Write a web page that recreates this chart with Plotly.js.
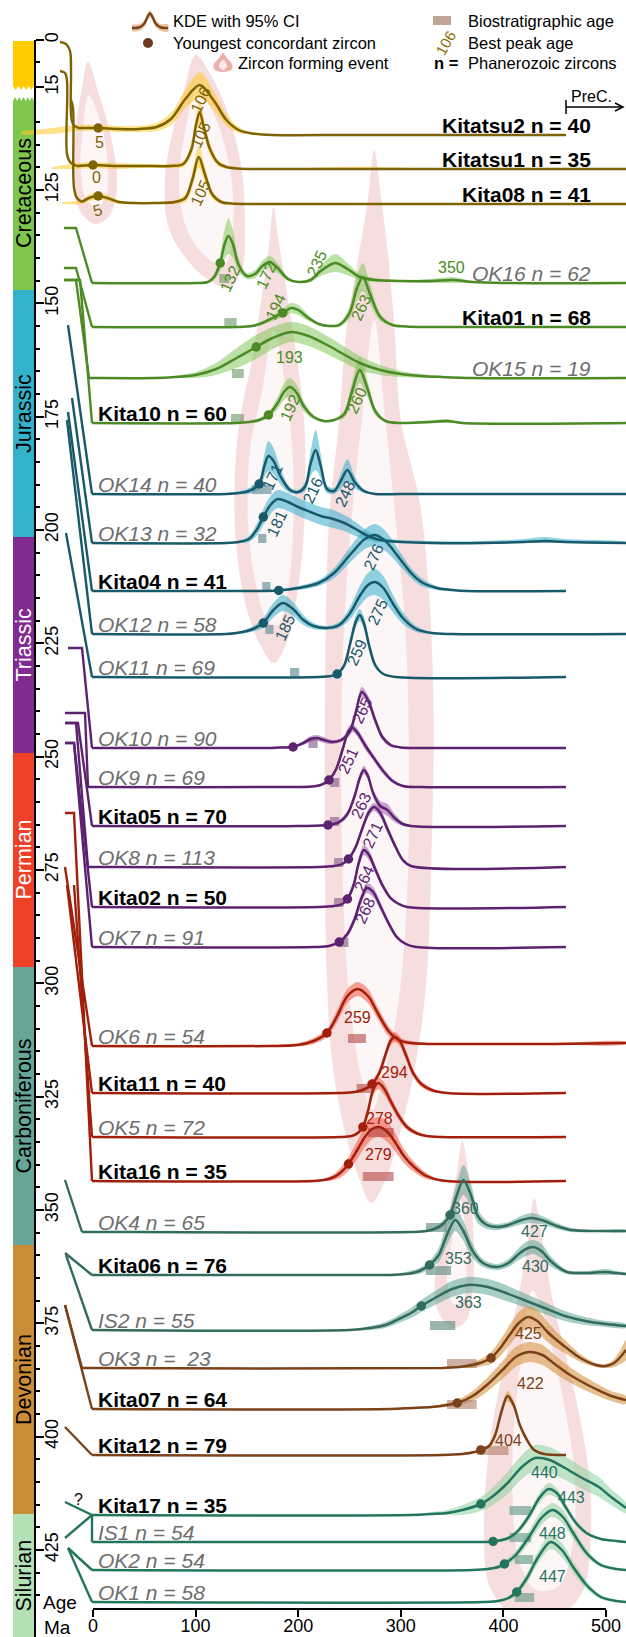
<!DOCTYPE html>
<html><head><meta charset="utf-8">
<script src="https://cdn.plot.ly/plotly-3.0.1.min.js"></script>
<style>html,body{margin:0;padding:0;background:#fff;}#chart{width:626px;height:1637px;}</style>
</head><body><div id="chart"></div>
<script>
// ================= DATA =================
const sampleNames = ['Kitatsu2','Kitatsu1','Kita08','OK16','Kita01','OK15','Kita10','OK14','OK13','Kita04','OK12','OK11','OK10','OK9','Kita05','OK8','Kita02','OK7','OK6','Kita11','OK5','Kita16','OK4','Kita06','IS2','OK3','Kita07','Kita12','Kita17','IS1','OK2','OK1'];
const sampleN = [40,35,41,62,68,19,60,40,32,41,58,69,90,69,70,113,50,91,54,40,72,35,65,76,55,23,64,79,35,54,54,58];
const sampleGroup = ['gold','gold','gold','green','green','green','green','teal','teal','teal','teal','teal','purple','purple','purple','purple','purple','purple','red','red','red','red','dteal','dteal','dteal','brown','brown','brown','sil','sil','sil','sil'];
const youngestAge = [5,0,5,124,185,159,171,162,166,181,166,238,195,230,229,249,248,240,228,272,263,249,348,328,320,388,355,378,378,390,401,413];
const bestPeakAges = [[5,106],[0,105],[5,105],[132,172,235,350],[194,263],[193],[192,260],[171,216,248],[181],[276],[185,275],[259],[265],[251],[263],[271],[264],[268],[259],[294],[278],[279],[360,427],[353,430],[363],[425],[422],[404],[440],[443],[448],[447]];
const biostratAge = [null,null,null,[123,133],[128,140],[135.5,147],[134.5,147],[155,174],[161,169],[165,173],[168,176],[192,201],[210,219],[231,240],[231,240],[235,244],[235,244],[238,249],[248.5,266],[257,273],[268,293],[263,293],[324.5,345],[324.5,349],[328.5,353],[345,374],[345,374],[374,405],[406,427],[406,427],[411,429],[411,430]];

// KDE curves: age (Ma), relative density (px), 95% CI half-width (px)
const kdeAge = [
 [-70,-40,-15,5,25,45,62,76,90,104,118,130,142,155,175,250,350,461],
 [-40,-15,0,20,50,75,88,96,100,104,108,114,122,130,140,160,200,240,280,350,519.5],
 [-30,-11,-4,5,14,25,40,60,80,90,97,103,109,116,125,135,160,300,519.5],
 [-1,100,112,118,124,128,132,136,142,150,158,165,172,180,190,200,212,222,236,248,260,275,300,330,350,370,400,519.5],
 [-1,140,155,165,175,185,193,200,210,220,230,240,250,257,263,270,280,292,305,330,519.5],
 [-1,60,80,100,120,140,159,175,193,210,230,260,280,300,320,340,370,519.5],
 [-1,140,152,162,171,180,186,192,198,206,215,225,235,245,252,260,267,275,285,300,330,345,360,519.5],
 [-1,130,143,152,162,167,171,176,183,192,200,207,212,217,222,228,235,242,248,255,264,275,300,519.5],
 [-1,130,142,152,160,166,173,180,190,200,212,222,234,245,256,266,276,288,300,330,380,420,440,460,519.5],
 [-1,150,181,200,220,235,252,265,275,285,300,310,320,335,350,365,461],
 [-1,130,140,150,158,166,175,185,195,205,215,228,240,250,260,268,275,283,292,302,315,330,350,519.5],
 [-1,220,232,238,245,251,256,260,264,269,275,283,295,461],
 [-1,150,170,182,195,205,212,218,225,233,242,250,256,262,268,275,282,290,300,320,461],
 [-1,200,213,222,230,237,244,249,253,258,265,273,282,292,302,320,461],
 [-1,200,229,240,248,255,260,264,268,273,280,287,294,302,310,461],
 [-1,220,235,243,249,256,263,269,274,280,287,295,302,310,461],
 [-1,220,235,243,248,254,259,264,269,275,282,290,298,306,461],
 [-1,215,230,240,248,255,261,267,273,280,288,296,305,315,461],
 [-1,170,200,215,228,238,248,258,268,278,288,298,310,330,380,450,519.5],
 [-1,240,255,265,272,279,285,290,294,299,305,312,320,330,345,461],
 [-1,240,252,258,263,268,273,278,284,290,298,306,315,325,340,461],
 [-1,215,225,235,242,249,257,265,272,279,287,295,303,313,325,340,461],
 [-1,310,325,335,342,348,354,361,368,375,384,394,405,415,427,440,452,466,490,519.5],
 [-1,260,290,305,318,328,337,345,353,361,370,380,394,405,415,422,429,437,447,462,480,500,510,519.5],
 [-1,250,270,285,300,310,320,335,350,365,372,385,400,420,440,460,480,500,519.5],
 [-1,340,357,370,380,388,397,406,415,424,433,443,453,463,475,490,500,508,514,519.5],
 [-1,290,310,330,345,355,370,385,400,412,425,438,450,462,475,490,505,519.5],
 [-1,340,360,372,378,386,392,398,404,410,416,423,430,440,461],
 [-1,310,330,345,360,378,390,405,418,431,445,460,475,493,505,519.5],
 [-1,370,390,405,415,425,435,444,452,460,470,481,495,510,519.5],
 [-1,370,385,395,401,412,425,437,448,458,468,481,495,510,519.5],
 [-1,380,395,405,413,423,434,446,457,468,481,495,510,519.5]
];
const kdeDensity = [
 [2,4,7,7,6,6,8,16,36,50,34,15,5,1.5,0,0,0,0],
 [1,3,4,3,3,3,5,20,42,57,42,20,6,2,0.5,0,0,0,0,0,0],
 [1,2,6,8,6,2,1,1,2,6,25,47,30,10,2,0.5,0,0,0],
 [0,0,1,6,20,38,47,40,18,7,9,17,21,15,4,1,3,12,20,14,6,3,2,2,3,1,0,0],
 [0,0,1,4,9,14,19,17,9,3,1,2,14,38,50,33,10,2,0.5,0,0],
 [0,0,1,3,9,20,31,40,46,42,32,15,8,4,2,1,0,0],
 [0,0,1,3,8,20,31,36,31,16,6,2,3,9,30,53,36,12,2,0,1,2,0,0],
 [0,0,1,3,10,28,38,33,17,4,2,8,30,44,28,5,3,14,24,12,3,0,0,0],
 [0,0,1,4,14,26,38,44,41,36,31,27,24,20,14,8,4,2,1,0,0,1,2,1,0],
 [0,0,0.5,3,8,18,38,52,56,50,31,18,9,3,1,0,0],
 [0,0,1,3,6,11,23,31,25,14,8,6,9,20,38,49,52,46,31,16,5,1,0,0],
 [0,0,1,3,12,35,55,62,54,32,12,3,0,0],
 [0,0,0,0.5,1,5,9,10,8,6,8,16,35,56,48,28,11,3,0.5,0,0],
 [0,0,0.5,2,7,18,40,56,59,54,42,30,17,6,1,0,0],
 [0,0,1,4,12,30,48,56,50,33,20,16,8,2,0,0],
 [0,0,1,3,8,20,40,55,60,54,38,20,7,1,0],
 [0,0,1,3,8,22,44,57,52,38,22,9,3,0,0],
 [0,0,1,5,13,28,47,59,55,41,24,10,3,0,0],
 [0,0,1,5,13,30,50,57,50,32,15,6,3,2,2,2,3],
 [0,0,1,4,9,20,38,52,56,52,38,20,9,3,0,0],
 [0,0,1,4,10,26,47,54,48,36,21,10,4,1,0,0],
 [0,0,1,4,9,17,30,44,52,54,49,38,25,14,5,0.5,0],
 [0,0,1,4,9,17,35,52,38,16,7,5,7,11,14,11,6,2,1,1],
 [0,0,0,1,4,10,20,40,55,44,24,12,8,12,21,26,28,24,13,3,2,3,2,1],
 [0,0,2,5,12,17,24,33,41,45,45,43,38,30,22,14,9,6,4],
 [0,0,1,3,6,10,20,33,45,51,47,36,27,19,10,3,2,5,11,18],
 [0,0,1,2,4,6,13,25,40,52,57,54,45,36,28,20,13,9],
 [0,0,1,3,5,9,20,43,59,50,30,15,5,1,0],
 [0,0,1,2,5,11,19,33,48,57,55,47,38,28,18,7],
 [0,0,0.5,4,12,26,44,53,49,36,20,9,3,1,0],
 [0,0,1,3,6,15,33,52,60,53,37,17,5,1,0],
 [0,0,1,4,10,24,45,60,52,35,17,5,1,0]
];
const kdeCI = [
 [2,3,3,3,3,3,4,6,9,13,9,6,3,1,0,0,0,0],
 [1,3,3,3,2,2,3,6,9,11,9,6,3,2,1,1,1,2,2,0,0],
 [1,2,3,4,3,2,1,1,2,4,8,11,8,4,2,1,0,0,0],
 [0,0,1,3,8,14,18,14,7,3,4,5,6,5,2,1,2,5,9,6,3,2,1,2,3,1,0,0],
 [0,0,1,2,3,4,5,5,3,1,1,2,6,12,14,10,4,1,0,0,0],
 [0,0,1,3,6,10,12,11,10,10,9,7,5,3,2,1,0,0],
 [0,0,1,2,3,6,8,9,8,5,2,1,1,4,9,13,9,4,1,1,2,2,0,0],
 [0,1,2,3,5,11,15,13,8,3,2,5,12,20,12,4,3,8,11,6,2,1,0,0],
 [0,0,1,3,6,8,9,9,9,9,9,9,9,8,7,5,3,2,2,2,2,3,4,3,1],
 [0,0,1,2,3,5,8,10,11,10,7,5,4,2,1,0,0],
 [0,0,1,2,3,5,7,8,7,5,3,2,3,6,10,12,13,12,9,6,3,1,0,0],
 [0,0,1,1,3,5,6,6,6,5,3,1,0,0],
 [0,0,1,1,1,2,3,3,3,2,2,4,5,5,5,4,3,2,1,1,0],
 [0,0,1,1,2,3,4,4,4,4,4,3,3,2,1,0,0],
 [0,0,1,2,3,4,4,4,4,4,5,6,4,2,0,0],
 [0,0,1,1,2,3,4,4,4,4,4,3,2,1,0],
 [0,0,1,1,2,4,5,5,5,4,3,2,1,0,0],
 [0,0,1,2,3,4,5,5,5,4,3,2,1,0,0],
 [0,1,2,3,4,6,7,7,7,6,5,3,2,1,1,1,1],
 [0,0,1,2,3,4,5,5,5,5,5,4,3,2,0,0],
 [0,0,1,2,3,5,6,6,6,5,4,3,2,1,0,0],
 [0,0,1,3,5,7,9,10,10,10,10,9,7,5,3,1,0],
 [0,0,1,2,4,7,12,15,12,7,4,3,3,4,5,4,3,2,1,1],
 [0,0,1,2,3,4,7,10,11,10,7,4,3,4,6,7,7,7,5,2,2,3,2,1],
 [0,0,2,3,4,5,6,7,8,8,8,8,8,7,6,5,4,3,2],
 [0,0,1,3,4,6,8,10,11,11,11,10,8,6,4,2,2,4,7,10],
 [0,0,1,1,2,3,5,7,9,10,10,10,9,8,7,6,5,4],
 [0,0,0,1,1,2,3,4,5,4,3,2,1,0,0],
 [0,0,2,3,5,7,9,11,12,13,13,12,11,10,8,5],
 [0,0,1,2,3,4,5,6,5,4,3,2,1,1,0],
 [0,0,1,2,3,4,6,7,7,7,6,4,2,1,0],
 [0,0,1,2,3,5,6,7,7,6,4,2,1,0]
];

// zircon forming events (outlines: age Ma, vertical px)
const evt5Outer = [[-5,62],[-11,90],[-16,120],[-19,160],[-18,195],[-10,215],[2,224],[14,218],[22,200],[23,170],[16,130],[6,95],[-5,62]];
const evt5Inner = [[-4,95],[-10,130],[-12,170],[-6,200],[4,207],[13,195],[14,160],[8,125],[-4,95]];
const evt105Outer = [[100,55],[90,85],[78,130],[70,180],[73,225],[88,255],[110,278],[132,288],[145,270],[148,225],[145,170],[132,115],[115,75],[100,55]];
const evt105Inner = [[101,90],[90,130],[84,180],[90,225],[108,255],[128,265],[136,235],[135,180],[124,130],[110,100],[101,90]];
const evt180Outer = [[176,207],[171,250],[164,300],[155,360],[143,420],[138,480],[140,550],[150,610],[163,645],[176,663],[188,645],[198,600],[205,540],[207,470],[205,410],[196,340],[187,280],[180,235],[176,207]];
const evt180Inner = [[176,330],[165,390],[153,450],[151,520],[158,580],[170,620],[180,625],[190,590],[195,530],[195,460],[188,390],[176,330]];
const evt270Outer = [[274,150],[268,200],[258,260],[247,330],[240,420],[230,520],[227,620],[226,720],[226,850],[228,980],[233,1060],[245,1130],[260,1180],[271,1203],[285,1180],[300,1130],[315,1060],[325,980],[330,850],[332,720],[328,600],[318,500],[300,420],[294,330],[288,260],[281,200],[274,150]];
const evt270Inner = [[274,320],[262,420],[252,520],[244,640],[242,780],[244,900],[250,1000],[262,1080],[272,1110],[285,1070],[298,1000],[306,900],[308,780],[305,640],[295,520],[285,420],[274,320]];
const evt360Outer = [[360,1140],[355,1170],[347,1210],[338,1250],[333,1290],[338,1315],[352,1328],[364,1320],[370,1290],[371,1240],[368,1190],[364,1160],[360,1140]];
const evt360Inner = [[358,1200],[350,1240],[345,1280],[352,1305],[361,1300],[364,1260],[362,1220],[358,1200]];
const evt435Outer = [[430,1198],[424,1240],[414,1300],[402,1360],[390,1420],[383,1480],[381,1540],[386,1585],[405,1612],[432,1620],[460,1612],[478,1590],[485,1540],[484,1480],[475,1420],[462,1360],[448,1300],[438,1240],[430,1198]];
const evt435Inner = [[428,1290],[417,1360],[410,1430],[409,1500],[415,1560],[432,1590],[455,1585],[468,1540],[470,1480],[462,1420],[450,1360],[438,1310],[428,1290]];

// stratigraphic column
const periodNames = ['','Cretaceous','Jurassic','Triassic','Permian','Carboniferous','Devonian','Silurian'];
const stratTickVals = [91.9,102.3,125,150,175,200,225,250,275,300,325,350,375,400,425];
const stratTickText = ['0','15','125','150','175','200','225','250','275','300','325','350','375','400','425'];
const xTickVals = [0,100,200,300,400,500];

// ================= LAYOUT / STYLE =================
const W = 626, H = 1637, PLOT_H = 1609, X0PX = 93, XSCALE = 1.026;
const pxToMa = px => (px - X0PX) / XSCALE;
const pX = px => px / W;
const pY = py => (PLOT_H - py) / PLOT_H;
const FONT = 'Liberation Sans, Arial, Helvetica, sans-serif';
const NARROW = 'Liberation Sans Narrow, Arial Narrow, Liberation Sans, Arial, sans-serif';

const groupStyle = {
  gold:  {line:'#7d6303', fill:'rgba(255,200,40,0.55)', box:'rgba(170,150,90,0.5)'},
  green: {line:'#4b8a24', fill:'rgba(120,195,80,0.5)',  box:'rgba(110,150,100,0.6)'},
  teal:  {line:'#18596a', fill:'rgba(55,175,205,0.55)', box:'rgba(100,140,150,0.65)'},
  purple:{line:'#5c2170', fill:'rgba(130,60,155,0.45)', box:'rgba(125,85,135,0.6)'},
  red:   {line:'#a2200b', fill:'rgba(240,100,80,0.6)',  box:'rgba(180,70,70,0.6)'},
  dteal: {line:'#336b5f', fill:'rgba(80,160,140,0.5)',  box:'rgba(110,150,140,0.7)'},
  brown: {line:'#7a4218', fill:'rgba(215,150,70,0.6)',  box:'rgba(175,125,105,0.6)'},
  sil:   {line:'#23755e', fill:'rgba(140,210,160,0.55)',box:'rgba(90,150,130,0.6)'}
};
const baselinePx = [135,169,204,283,327,378,423,494,543,591,634,677,748,787,826,867,907,947,1046,1093,1137,1181,1232,1275,1330,1368,1409,1455,1515,1542,1570,1602];
const labelRight = [true,true,true,true,true,true];
const labelGap = sampleNames.map((n,i)=> i===25 ? ' &nbsp;' : ' ');
const connPx = [
 [[60,42],[66,44],[70,51],[71,70],[71,114],[73,124],[78,128]],
 [[60,71],[65,73],[67,81],[67,154],[70,162],[77,166]],
 [[71,100],[73,108],[74,188],[77,198],[82,202]],
 [[64,228],[76,228],[92,283]],
 [[64,268],[76,268],[92,327]],
 [[64,280],[76,280],[89,378]],
 [[64,280],[80,280],[92,423]],
 [[68,325],[92,494]],
 [[72,398],[92,543]],
 [[68,412],[92,591]],
 [[67,420],[92,634]],
 [[66,533],[92,677]],
 [[68,648],[82,648],[92,748]],
 [[65,713],[85,713],[88,787]],
 [[65,723],[78,723],[92,826]],
 [[65,723],[76,723],[88,867]],
 [[65,743],[74,743],[92,907]],
 [[65,743],[74,743],[92,947]],
 [[65,867],[92,1046]],
 [[67,885],[92,1093]],
 [[74,885],[92,1137]],
 [[65,813],[74,813],[92,1181]],
 [[65,1180],[82,1232]],
 [[65,1253],[92,1275]],
 [[66,1255],[92,1330]],
 [[65,1305],[82,1368]],
 [[65,1305],[92,1409]],
 [[65,1427],[92,1455]],
 [[65,1502],[92,1515]],
 [[65,1538],[92,1515],[92,1542]],
 [[68,1548],[92,1570]],
 [[68,1548],[92,1602]]
];
// peak-label positions [x (Ma), y (px), angle]
const R = -65;
const peakLabelPos = [
 [[6.8,142,0],[104.3,100,R]],
 [[3,177,0],[104.3,135,R]],
 [[4,210,-15],[104.3,193,R]],
 [[133.5,278,R],[168.6,275,R],[218,263,R],[349,267,0]],
 [[177.4,307,R],[261,307,R]],
 [[192,357,0]],
 [[192,407,R],[257,400,R]],
 [[174.5,477,R],[214,490,R],[245.6,493,R]],
 [[179,523,R]],
 [[273,557,R]],
 [[187,627,R],[277,612,R]],
 [[257,652,R]],
 [[262,710,R]],
 [[248.5,760,R]],
 [[261,805,R]],
 [[272,835,R]],
 [[264,878,R]],
 [[265,910,R]],
 [[258,1017,0]],
 [[294,1072,0]],
 [[279,1118,0]],
 [[278,1154,0]],
 [[362.6,1208,0],[430,1231,0]],
 [[356,1258,0],[431,1266,0]],
 [[366,1302,0]],
 [[424,1333,0]],
 [[426,1383,0]],
 [[404.5,1440,0]],
 [[440.5,1472,0]],
 [[466,1497,0]],
 [[448,1533,0]],
 [[448,1576,0]]
];
const boxLift = sampleNames.map((n,i)=> i===18 ? 3 : (i===30 ? 6 : 0));
const periodPx = [[41,86],[97,290],[290,537],[537,753],[753,967],[967,1245],[1245,1514],[1514,1637]];
const periodColors = ['#ffcc00','#7fc64e','#34b2c9','#812b92','#f04028','#67a599','#cb8c37','#b3e1b6'];
const periodTextColors = ['#000','#000','#000','#fff','#fff','#000','#000','#000'];

// ================= BUILD =================
const traces = [];
const skip = {hoverinfo:'skip', showlegend:false};

function polyTrace(pts, color){
  return Object.assign({x: pts.map(p=>p[0]), y: pts.map(p=>p[1]), mode:'lines', fill:'toself', fillcolor:color,
    line:{width:0, shape:'spline', smoothing:1}}, skip);
}
[[evt5Outer,evt5Inner],[evt105Outer,evt105Inner],[evt180Outer,evt180Inner],[evt270Outer,evt270Inner],[evt360Outer,evt360Inner],[evt435Outer,evt435Inner]].forEach(([o,inn])=>{
  traces.push(polyTrace(o,'rgba(225,125,125,0.25)'));
  traces.push(polyTrace(inn,'rgba(255,255,255,0.72)'));
});

function interp(xs, ys, x){
  for (let j=0;j<xs.length-1;j++){
    if (x>=xs[j] && x<=xs[j+1]) { const t=(x-xs[j])/(xs[j+1]-xs[j]||1); return ys[j]+t*(ys[j+1]-ys[j]); }
  }
  return ys[ys.length-1];
}

// CI bands
sampleNames.forEach((nm,i)=>{
  const g = groupStyle[sampleGroup[i]], base = baselinePx[i];
  const ax = kdeAge[i], d = kdeDensity[i], c = kdeCI[i];
  const up = ax.map((a,j)=> base - (d[j]+c[j]));
  const lo = ax.map((a,j)=> base - Math.max(d[j]-c[j],0));
  traces.push(Object.assign({x: ax.concat(ax.slice().reverse()), y: up.concat(lo.slice().reverse()), mode:'lines', fill:'toself',
    fillcolor:g.fill, line:{width:0, shape:'spline', smoothing:0.9}}, skip));
});
// biostratigraphic boxes
sampleNames.forEach((nm,i)=>{
  const b = biostratAge[i]; if (!b) return;
  const bot = baselinePx[i] - boxLift[i], top = bot - 9;
  traces.push(Object.assign({x:[b[0],b[1],b[1],b[0],b[0]], y:[bot,bot,top,top,bot], mode:'lines', fill:'toself',
    fillcolor:groupStyle[sampleGroup[i]].box, line:{width:0}}, skip));
});
// connectors + KDE lines
sampleNames.forEach((nm,i)=>{
  const g = groupStyle[sampleGroup[i]], base = baselinePx[i];
  const cp = connPx[i];
  traces.push(Object.assign({x: cp.map(p=>pxToMa(p[0])), y: cp.map(p=>p[1]), mode:'lines',
    line:{color:g.line, width:2.4, shape: i<3 ? 'spline':'linear', smoothing:1}}, skip));
  const endMa = pxToMa(cp[cp.length-1][0]), endY = cp[cp.length-1][1];
  const xs=[endMa], ys=[endY];
  kdeAge[i].forEach((a,j)=>{ if (a > endMa + 0.5) { xs.push(a); ys.push(base - kdeDensity[i][j]); } });
  traces.push(Object.assign({x:xs, y:ys, mode:'lines', line:{color:g.line, width:2.5, shape:'spline', smoothing:0.9}}, skip));
});
// youngest concordant zircon dots
sampleNames.forEach((nm,i)=>{
  const g = groupStyle[sampleGroup[i]];
  const h = interp(kdeAge[i], kdeDensity[i], youngestAge[i]);
  traces.push(Object.assign({x:[youngestAge[i]], y:[baselinePx[i]-h], mode:'markers', marker:{size:9.5, color:g.line}}, skip));
});

// legend icons
const legendKdePx = [[132,28],[139,27.5],[144,24],[147,18],[150,13.5],[153,18],[156,24],[161,27.5],[168,28]];
traces.push(Object.assign({x: legendKdePx.map(p=>pxToMa(p[0])).concat(legendKdePx.slice().reverse().map(p=>pxToMa(p[0]))),
  y: legendKdePx.map(p=>p[1]-3.5).concat(legendKdePx.slice().reverse().map(p=>p[1]+3.5)), mode:'lines', fill:'toself',
  fillcolor:'rgba(215,160,100,0.6)', line:{width:0, shape:'spline'}}, skip));
traces.push(Object.assign({x: legendKdePx.map(p=>pxToMa(p[0])), y: legendKdePx.map(p=>p[1]), mode:'lines',
  line:{color:'#7a4218', width:2.4, shape:'spline'}}, skip));
traces.push(Object.assign({x:[pxToMa(148)], y:[43], mode:'markers', marker:{size:10, color:'#6b3a1e'}}, skip));
const legendDropOuter = [[223,53],[219,58],[214,64],[214,69],[223,72],[232,69],[232,64],[227,58],[223,53]];
const legendDropInner = [[223,60],[219,66],[223,70],[227,66],[223,60]];
traces.push(polyTrace(legendDropOuter.map(p=>[pxToMa(p[0]),p[1]]),'rgba(225,110,110,0.55)'));
traces.push(polyTrace(legendDropInner.map(p=>[pxToMa(p[0]),p[1]]),'rgba(255,255,255,0.75)'));

// dummy trace so the stratigraphic axis (y2) is drawn
traces.push(Object.assign({x:[-80], y:[300], yaxis:'y2', mode:'markers', marker:{opacity:0}}, skip));

// ---- shapes ----
const shapes = [];
const bx0 = pX(13), bx1 = pX(34);
periodPx.forEach((seg,k)=>{
  if (k===0) {
    let path = `M ${bx0},${pY(seg[0])} L ${bx1},${pY(seg[0])} L ${bx1},${pY(seg[1])}`;
    const n=8; for (let t=1;t<=n;t++){ const xx = 34 - 21*t/n; path += ` L ${pX(xx)},${pY(t%2? seg[1]+4 : seg[1])}`; }
    path += ' Z';
    shapes.push({type:'path', xref:'paper', yref:'paper', path, fillcolor:periodColors[k], line:{width:0}, layer:'below'});
  } else if (k===1) {
    let path = `M ${bx0},${pY(seg[0]+4)}`;
    const n=10; for (let t=1;t<=n;t++){ const xx = 13 + 21*t/n; path += ` L ${pX(xx)},${pY(t%2? seg[0] : seg[0]+4)}`; }
    path += ` L ${bx1},${pY(seg[1])} L ${bx0},${pY(seg[1])} Z`;
    shapes.push({type:'path', xref:'paper', yref:'paper', path, fillcolor:periodColors[k], line:{width:0}, layer:'below'});
  } else {
    shapes.push({type:'rect', xref:'paper', yref:'paper', x0:bx0, x1:bx1, y0:pY(seg[1]), y1:pY(seg[0]), fillcolor:periodColors[k], line:{width:0}, layer:'below'});
  }
});
shapes.push({type:'line', xref:'paper', yref:'paper', x0:pX(35), x1:pX(35), y0:pY(40), y1:pY(1637), line:{color:'#000', width:2}});
shapes.push({type:'line', xref:'x', yref:'paper', x0:0, x1:500, y0:0, y1:0, line:{color:'#000', width:2}});
shapes.push({type:'line', xref:'paper', yref:'paper', x0:pX(566), x1:pX(566), y0:pY(100), y1:pY(114), line:{color:'#000', width:1.5}});
shapes.push({type:'line', xref:'paper', yref:'paper', x0:pX(566), x1:pX(623), y0:pY(107), y1:pY(107), line:{color:'#000', width:1.5}});
shapes.push({type:'path', xref:'paper', yref:'paper', path:`M ${pX(615)},${pY(103)} L ${pX(623)},${pY(107)} L ${pX(615)},${pY(111)}`, line:{color:'#000', width:1.5}});
shapes.push({type:'rect', xref:'paper', yref:'paper', x0:pX(433), x1:pX(451), y0:pY(25), y1:pY(16), fillcolor:'#bfa595', line:{width:0}});

// ---- annotations ----
const annotations = [];
const C = {xanchor:'center', yanchor:'middle', showarrow:false};
sampleNames.forEach((nm,i)=>{
  const bold = nm.startsWith('Kita');
  const txt = nm + ' n =' + labelGap[i] + sampleN[i];
  const right = !!labelRight[i];
  annotations.push({xref:'paper', yref:'y', x: right ? pX(593) : pX(96), xanchor: right ? 'right' : 'left',
    y: baselinePx[i] - 10, yanchor:'middle', showarrow:false, text: bold ? '<b>'+txt+'</b>' : '<i>'+txt+'</i>',
    font:{family:FONT, size: bold ? 21 : 21, color: bold ? '#000' : '#6e6e6e'}});
});
bestPeakAges.forEach((arr,i)=> arr.forEach((v,j)=>{
  const p = peakLabelPos[i][j];
  annotations.push(Object.assign({xref:'x', yref:'y', x:p[0], y:p[1], text:String(v), textangle:p[2],
    font:{family:NARROW, size:16, color:groupStyle[sampleGroup[i]].line}}, C));
}));
periodPx.forEach((seg,k)=>{
  if (!periodNames[k]) return;
  const mid = k===7 ? 1576 : (seg[0]+seg[1])/2;
  annotations.push(Object.assign({xref:'paper', yref:'y', x:pX(23.5), y:mid, text:periodNames[k], textangle:-90,
    font:{family:FONT, size:21.5, color:periodTextColors[k]}}, C));
});
const leg = (x,y,text) => annotations.push({xref:'paper', yref:'y', x:pX(x), y, xanchor:'left', yanchor:'middle', text, showarrow:false, font:{family:FONT, size:16.5, color:'#000'}});
leg(171,21,'KDE with 95% CI');
leg(171,43,'Youngest concordant zircon');
leg(236,63,'Zircon forming event');
leg(466,21,'Biostratigraphic age');
leg(466,43,'Best peak age');
leg(466,63,'Phanerozoic zircons');
leg(432,63,'<b>n =</b>');
annotations.push(Object.assign({xref:'paper', yref:'y', x:pX(445), y:43, text:'106', textangle:-60, font:{family:NARROW, size:15, color:'#8a6d00'}}, C));
annotations.push(Object.assign({xref:'paper', yref:'y', x:pX(591), y:96, text:'PreC.', font:{family:FONT, size:16, color:'#000'}}, C));
annotations.push(Object.assign({xref:'paper', yref:'y', x:pX(78), y:1499, text:'?', font:{family:FONT, size:16, color:'#000'}}, C));
annotations.push(Object.assign({xref:'paper', yref:'paper', x:pX(60), y:pY(1602), text:'Age', font:{family:FONT, size:19, color:'#000'}}, C));
annotations.push(Object.assign({xref:'paper', yref:'paper', x:pX(57), y:pY(1627), text:'Ma', font:{family:FONT, size:19, color:'#000'}}, C));

const stratMinor = [];
for (let m=110; m<=435; m+=5) if (m%25!==0) stratMinor.push(m);
stratMinor.unshift(96.8);

const layout = {
  width:W, height:H, margin:{l:0, r:0, t:0, b:H-PLOT_H}, paper_bgcolor:'#fff', plot_bgcolor:'#fff',
  showlegend:false, shapes, annotations,
  xaxis:{range:[pxToMa(0), pxToMa(W)], showgrid:false, zeroline:false, showline:false, tickmode:'array', tickvals:xTickVals,
    ticks:'outside', ticklen:7, tickwidth:2, tickcolor:'#000', ticklabelstandoff:-7, tickfont:{family:FONT, size:18, color:'#000'}, fixedrange:true},
  yaxis:{range:[PLOT_H, 0], visible:false, fixedrange:true},
  yaxis2:{overlaying:'y', anchor:'free', position:pX(35), side:'right', range:[125+(PLOT_H-190)/4.5333, 125-190/4.5333],
    showgrid:false, zeroline:false, showline:false, tickmode:'array', tickvals:stratTickVals, ticktext:stratTickText,
    ticks:'outside', ticklen:8, tickwidth:2, tickcolor:'#000', tickangle:-90, ticklabelstandoff:-8,
    tickfont:{family:FONT, size:18, color:'#000'},
    minor:{tickmode:'array', tickvals:stratMinor, ticks:'outside', ticklen:4, tickwidth:2, tickcolor:'#000', showgrid:false},
    fixedrange:true}
};
Plotly.newPlot('chart', traces, layout, {displayModeBar:false, staticPlot:true});
</script>
</body></html>
